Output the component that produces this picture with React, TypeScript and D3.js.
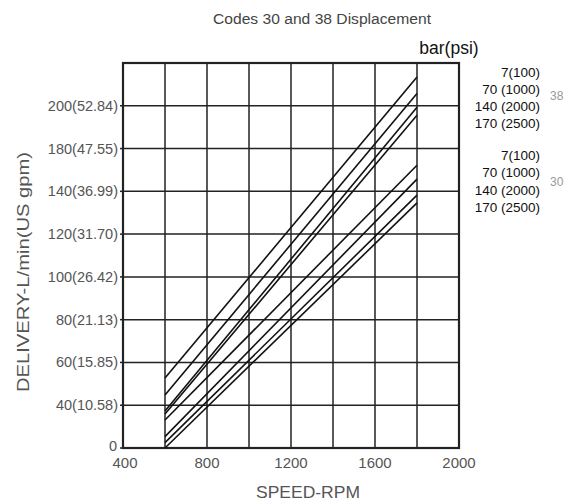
import React from "react";
import * as d3 from "d3";

const W = 571;
const H = 503;

const xTicks = [400, 800, 1200, 1600, 2000];
const xGrid = [400, 600, 800, 1000, 1200, 1400, 1600, 1800, 2000];
const yTickValues = [20, 40, 60, 80, 100, 120, 140, 160, 180];
const yTickLabels = ["0", "40(10.58)", "60(15.85)", "80(21.13)", "100(26.42)", "120(31.70)", "140(36.99)", "180(47.55)", "200(52.84)"];

const speeds = [600, 1800];
// Code 38 lines: 7, 70, 140, 170 bar
const code38_7 = [52.7, 193.5];
const code38_70 = [44.8, 185.7];
const code38_140 = [37.3, 179.3];
const code38_170 = [35.9, 175.6];
// Code 30 lines
const code30_7 = [33.1, 152.2];
const code30_70 = [25.3, 145.7];
const code30_140 = [22.5, 138.2];
const code30_170 = [20.0, 134.6];

const series = [code38_7, code38_70, code38_140, code38_170, code30_7, code30_70, code30_140, code30_170];

const pressureLabels = ["7(100)", "70 (1000)", "140 (2000)", "170 (2500)"];
const groups = ["38", "30"];

export default function App() {
  const left = 123, right = 459, top = 63, bottom = 448;
  const x = d3.scaleLinear().domain([400, 2000]).range([left, right]);
  const y = d3.scaleLinear().domain([20, 200]).range([bottom, top]);
  const line = d3.line<[number, number]>().x(d => x(d[0])).y(d => y(d[1]));
  const font = "'Liberation Sans', Arial, sans-serif";
  const gray = "#555";
  const gridY = [...yTickValues, 200];

  return (
    <svg width={W} height={H} style={{ position: "absolute", left: 0, top: 0, background: "#fff" }} fontFamily={font}>
      <text x={322} y={24} textAnchor="middle" fontSize={15.5} fill="#444" textLength={218} lengthAdjust="spacingAndGlyphs">Codes 30 and 38 Displacement</text>
      <text x={449} y={54} textAnchor="middle" fontSize={17.5} fill="#111">bar(psi)</text>
      {/* grid */}
      {xGrid.map(v => (
        <line key={"gx" + v} x1={x(v)} x2={x(v)} y1={top} y2={bottom} stroke="#222" strokeWidth={1.5} />
      ))}
      {gridY.map(v => (
        <line key={"gy" + v} x1={left} x2={right} y1={y(v)} y2={y(v)} stroke="#222" strokeWidth={1.5} />
      ))}
      <rect x={left} y={top} width={right - left} height={bottom - top} fill="none" stroke="#222" strokeWidth={2.2} />
      {/* y ticks */}
      {yTickValues.map((v, i) => (
        <g key={"yt" + v}>
          <line x1={left - 3} x2={left} y1={y(v)} y2={y(v)} stroke="#222" strokeWidth={1.5} />
          <text x={i === 0 ? left - 6 : left - 5} y={i === 0 ? y(v) + 3 : y(v) + 5} textAnchor="end" fontSize={14.5} fill={gray}>{yTickLabels[i]}</text>
        </g>
      ))}
      {xTicks.map(v => (
        <text key={"xt" + v} x={x(v) + (v === 400 ? 2 : 0)} y={468} textAnchor="middle" fontSize={15} fill={gray}>{v}</text>
      ))}
      <text x={308} y={498} textAnchor="middle" fontSize={16.5} fill={gray} textLength={104} lengthAdjust="spacingAndGlyphs">SPEED-RPM</text>
      <text transform={`translate(29,272) rotate(-90)`} textAnchor="middle" fontSize={17} fill={gray} textLength={240} lengthAdjust="spacingAndGlyphs">DELIVERY-L/min(US gpm)</text>
      {/* data lines */}
      {series.map((s, i) => (
        <path key={"s" + i} d={line(speeds.map((sp, j) => [sp, s[j]] as [number, number])) || ""} fill="none" stroke="#111" strokeWidth={1.6} />
      ))}
      {/* right legend */}
      {groups.map((g, gi) => (
        <g key={"g" + g}>
          {pressureLabels.map((p, i) => (
            <text key={p} x={540} y={76.5 + gi * 83.5 + i * 17.3} textAnchor="end" fontSize={13.5} fill="#111">{p}</text>
          ))}
          <text x={550} y={99.5 + gi * 86.5} fontSize={12} fill="#999">{g}</text>
        </g>
      ))}
    </svg>
  );
}
